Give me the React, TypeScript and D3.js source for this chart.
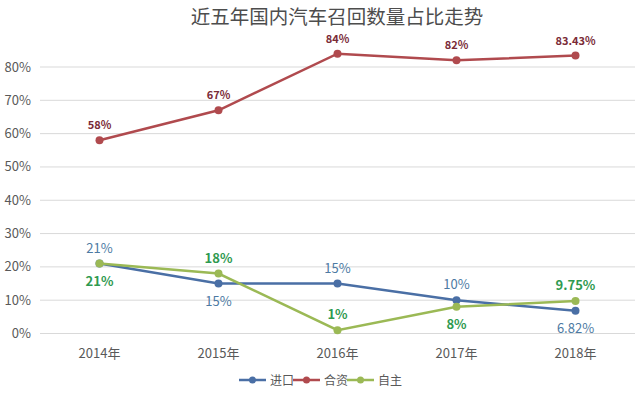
import React from "react";
import * as d3 from "d3";

const categories = ["2014年", "2015年", "2016年", "2017年", "2018年"];
const importVals = [21, 15, 15, 10, 6.82];
const jointVals = [58, 67, 84, 82, 83.43];
const domesticVals = [21, 18, 1, 8, 9.75];
const importLabels = ["21%", "15%", "15%", "10%", "6.82%"];
const jointLabels = ["58%", "67%", "84%", "82%", "83.43%"];
const domesticLabels = ["21%", "18%", "1%", "8%", "9.75%"];
const importPos = ["above", "below", "above", "above", "below"];
const jointPos = ["above", "above", "above", "above", "above"];
const domesticPos = ["below", "above", "above", "below", "above"];
const yTicks = [0, 10, 20, 30, 40, 50, 60, 70, 80];
const seriesNames = ["进口", "合资", "自主"];

const W = 640, H = 398;
const font = "'Noto Sans CJK SC', 'Noto Sans', sans-serif";

export default function App() {
  const x = d3.scaleBand<string>().domain(categories).range([40, 635]);
  const y = d3.scaleLinear().domain([0, 80]).range([333.5, 67]);
  const cx = (c: string) => (x(c) as number) + x.bandwidth() / 2;
  const line = d3.line<[number, number]>().x(d => d[0]).y(d => d[1]);

  const series = [
    { name: seriesNames[0], vals: importVals, labels: importLabels, pos: importPos, color: "#4a6fa5", lc: "#4d7aa3", fs: 13, fw: 400 },
    { name: seriesNames[1], vals: jointVals, labels: jointLabels, pos: jointPos, color: "#b04a4e", lc: "#7a2b38", fs: 11, fw: 700 },
    { name: seriesNames[2], vals: domesticVals, labels: domesticLabels, pos: domesticPos, color: "#9bb955", lc: "#2f9a50", fs: 13, fw: 700 },
  ];

  const legendX = [239, 293, 347];

  return (
    <svg width={W} height={H} style={{ position: "absolute", left: 0, top: 0, background: "#fff" }}>
      <rect x={0} y={0} width={W} height={H} fill="#fff" />
      <text x={337} y={24} textAnchor="middle" fontFamily={font} fontSize={19.5} fill="#4d4d4d">近五年国内汽车召回数量占比走势</text>
      {yTicks.map(t => (
        <g key={t}>
          <line x1={40} x2={635} y1={y(t)} y2={y(t)} stroke="#d9d9d9" strokeWidth={1} />
          <text x={31} y={y(t) + 4.5} textAnchor="end" fontFamily={font} fontSize={13} fill="#595959">{t}%</text>
        </g>
      ))}
      {categories.map(c => (
        <text key={c} x={cx(c)} y={358} textAnchor="middle" fontFamily={font} fontSize={13} fill="#595959">{c}</text>
      ))}
      {series.map(s => {
        const pts = s.vals.map((v, i) => [cx(categories[i]), y(v)] as [number, number]);
        return (
          <g key={s.name}>
            <path d={line(pts) || ""} fill="none" stroke={s.color} strokeWidth={2.5} />
            {pts.map((p, i) => <circle key={i} cx={p[0]} cy={p[1]} r={4} fill={s.color} />)}
            {pts.map((p, i) => (
              <text key={"l" + i} x={p[0]} y={s.pos[i] === "above" ? p[1] - 11 : p[1] + 22}
                textAnchor="middle" fontFamily={font} fontSize={s.fs} fontWeight={s.fw} fill={s.lc}>{s.labels[i]}</text>
            ))}
          </g>
        );
      })}
      {series.map((s, i) => (
        <g key={"lg" + i}>
          <line x1={legendX[i]} x2={legendX[i] + 27} y1={380} y2={380} stroke={s.color} strokeWidth={2.5} />
          <circle cx={legendX[i] + 13.5} cy={380} r={3.5} fill={s.color} />
          <text x={legendX[i] + 31} y={384.5} fontFamily={font} fontSize={12} fill="#595959">{s.name}</text>
        </g>
      ))}
    </svg>
  );
}
